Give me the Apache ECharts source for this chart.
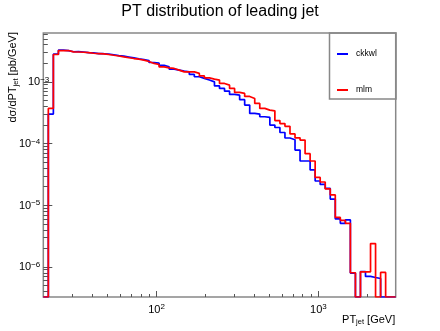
<!DOCTYPE html>
<html>
<head>
<meta charset="utf-8">
<script src="https://cdn.jsdelivr.net/npm/echarts@6/dist/echarts.min.js"></script>
<style>
html, body { margin: 0; padding: 0; background: #fff; }
#chart { width: 440px; height: 331px; }
</style>
</head>
<body>
<div id="chart"></div>
<script>
// histogram binning: 70 log-spaced bins from 20 to 3000 GeV
var ptLow = 20;
var ptHigh = 3000;
var nBins = 70;

// dsigma/dPT per bin, 0 = empty bin
var ckkwl = [
    0, 3.00e-4, 2.81e-3, 3.26e-3, 3.22e-3, 3.08e-3, 3.10e-3, 3.05e-3, 2.99e-3, 2.95e-3,
    2.88e-3, 2.86e-3, 2.81e-3, 2.75e-3, 2.67e-3, 2.61e-3, 2.53e-3, 2.45e-3, 2.37e-3, 2.30e-3,
    2.22e-3, 2.06e-3, 2.01e-3, 1.86e-3, 1.75e-3, 1.61e-3, 1.55e-3, 1.49e-3, 1.45e-3, 1.32e-3,
    1.21e-3, 1.14e-3, 1.07e-3, 1.00e-3, 8.61e-4, 7.82e-4, 7.07e-4, 6.25e-4, 6.09e-4, 5.15e-4,
    4.20e-4, 3.08e-4, 3.00e-4, 2.72e-4, 2.65e-4, 1.99e-4, 1.82e-4, 1.51e-4, 1.23e-4, 1.15e-4,
    7.85e-5, 5.21e-5, 5.21e-5, 3.73e-5, 2.47e-5, 2.17e-5, 1.87e-5, 1.26e-5, 6.00e-6, 5.08e-6,
    5.78e-6, 7.94e-7, 0, 8.42e-7, 7.00e-7, 6.74e-7, 6.49e-7, 0, 0, 0
];
var mlm = [
    0, 3.71e-4, 2.78e-3, 3.22e-3, 3.22e-3, 3.06e-3, 3.05e-3, 3.02e-3, 2.97e-3, 2.91e-3,
    2.88e-3, 2.84e-3, 2.78e-3, 2.70e-3, 2.63e-3, 2.54e-3, 2.46e-3, 2.39e-3, 2.33e-3, 2.25e-3,
    2.14e-3, 1.99e-3, 1.91e-3, 1.75e-3, 1.69e-3, 1.65e-3, 1.55e-3, 1.45e-3, 1.45e-3, 1.45e-3,
    1.37e-3, 1.25e-3, 1.16e-3, 1.11e-3, 1.07e-3, 9.42e-4, 8.84e-4, 7.82e-4, 6.74e-4, 6.49e-4,
    5.80e-4, 5.39e-4, 4.47e-4, 3.71e-4, 3.48e-4, 3.39e-4, 2.36e-4, 2.11e-4, 1.90e-4, 1.43e-4,
    1.24e-4, 1.14e-4, 6.84e-5, 5.21e-5, 2.82e-5, 2.38e-5, 1.84e-5, 1.47e-5, 6.35e-6, 5.68e-6,
    5.08e-6, 8.03e-7, 0, 8.33e-7, 8.33e-7, 2.39e-6, 0, 8.12e-7, 0, 0
];

var yLow = 3.25e-7;
var yHigh = 6.2e-3;

var xMajorTicks = [100, 1000];
var yMajorTicks = [1e-6, 1e-5, 1e-4, 1e-3];

// minor ticks 2..9 in every decade
function minorTicks(lo, hi) {
    var out = [];
    for (var p = Math.floor(Math.log10(lo)); p <= Math.ceil(Math.log10(hi)); p++) {
        for (var m = 2; m <= 9; m++) {
            var v = m * Math.pow(10, p);
            if (v > lo * 1.0001 && v < hi * 0.9999) out.push(v);
        }
    }
    return out;
}

var edges = [];
for (var i = 0; i <= nBins; i++) {
    edges.push(ptLow * Math.pow(ptHigh / ptLow, i / nBins));
}

function toSteps(vals) {
    var pts = [];
    for (var k = 0; k < vals.length; k++) {
        pts.push([edges[k], vals[k] > 0 ? vals[k] : yLow]);
    }
    var last = vals[vals.length - 1];
    pts.push([edges[nBins], last > 0 ? last : yLow]);
    return pts;
}

function expLabel(v) {
    var e = Math.round(Math.log10(v));
    return '{b|10}{sup|' + (e < 0 ? '\u2212' + (-e) : e) + '}';
}

var font = 'Liberation Sans, Arial, sans-serif';
var gridBox = { left: 43.3, right: 44.3, top: 33, bottom: 34 };
var tickColor = '#555';

var chart = echarts.init(document.getElementById('chart'));

var option = {
    animation: false,
    title: {
        text: 'PT distribution of leading jet',
        left: 'center',
        top: 0,
        padding: [4, 0, 0, 0],
        textStyle: { fontFamily: font, fontSize: 16, fontWeight: 'normal', color: '#000' }
    },
    legend: {
        orient: 'vertical',
        left: 332,
        top: 43,
        itemWidth: 11,
        itemHeight: 2,
        itemGap: 24,
        icon: 'rect',
        textStyle: { fontFamily: font, fontSize: 8.5, color: '#000', lineHeight: 12, padding: [0, 0, 0, 3] },
        data: ['ckkwl', 'mlm']
    },
    grid: [
        { left: gridBox.left, right: gridBox.right, top: gridBox.top, bottom: gridBox.bottom,
          show: true, borderColor: '#888', borderWidth: 1.5, backgroundColor: 'transparent' },
        { left: gridBox.left, right: gridBox.right, top: gridBox.top, bottom: gridBox.bottom, show: false }
    ],
    xAxis: [
        {
            type: 'log', logBase: 10, gridIndex: 0, min: ptLow, max: ptHigh,
            axisLine: { show: false }, splitLine: { show: false },
            axisTick: { inside: true, length: 3, customValues: minorTicks(ptLow, ptHigh), lineStyle: { color: tickColor } },
            axisLabel: { show: false }
        },
        {
            type: 'log', logBase: 10, gridIndex: 1, min: ptLow, max: ptHigh,
            axisLine: { show: false }, splitLine: { show: false },
            axisTick: { inside: true, length: 6, customValues: xMajorTicks, lineStyle: { color: tickColor } },
            axisLabel: {
                customValues: xMajorTicks, margin: 6, formatter: expLabel,
                rich: {
                    b: { fontFamily: font, fontSize: 11, color: '#000', lineHeight: 12, padding: [2, 0, 0, 0], verticalAlign: 'bottom' },
                    sup: { fontFamily: font, fontSize: 8, color: '#000', lineHeight: 9, verticalAlign: 'top' }
                }
            },
            name: 'PT{sub|jet} [GeV]',
            nameLocation: 'end',
            nameGap: -0.5,
            nameTextStyle: {
                fontFamily: font, fontSize: 11, color: '#000', align: 'right', verticalAlign: 'top',
                padding: [16, 0, 0, 0],
                rich: { sub: { fontFamily: font, fontSize: 7.5, color: '#000', padding: [5, 0, 0, 0] } }
            }
        }
    ],
    yAxis: [
        {
            type: 'log', logBase: 10, gridIndex: 0, min: yLow, max: yHigh,
            axisLine: { show: false }, splitLine: { show: false },
            axisTick: { inside: true, length: 4.5, customValues: minorTicks(yLow, yHigh), lineStyle: { color: tickColor } },
            axisLabel: { show: false }
        },
        {
            type: 'log', logBase: 10, gridIndex: 1, min: yLow, max: yHigh,
            axisLine: { show: false }, splitLine: { show: false },
            axisTick: { inside: true, length: 9, customValues: yMajorTicks, lineStyle: { color: tickColor } },
            axisLabel: {
                customValues: yMajorTicks, margin: -6,
                formatter: function (v) {
                    var s = expLabel(v);
                    // ROOT pushes the 10^-3 label into the frame; others sit further left
                    return Math.abs(Math.log10(v) + 3) < 0.01 ? s : s.replace('{sup|', '{supl|');
                },
                rich: {
                    b: { fontFamily: font, fontSize: 11, color: '#000', lineHeight: 12, padding: [2, 0, 0, 0], verticalAlign: 'bottom' },
                    sup: { fontFamily: font, fontSize: 8, color: '#000', lineHeight: 9, verticalAlign: 'top' },
                    supl: { fontFamily: font, fontSize: 8, color: '#000', lineHeight: 9, verticalAlign: 'top', padding: [0, 9, 0, 0] }
                }
            }
        }
    ],
    graphic: [
        {
            type: 'rect', z: 10,
            shape: { x: 329.5, y: 33, width: 66.5, height: 66 },
            style: { fill: 'transparent', stroke: '#888', lineWidth: 1.5 }
        },
        {
            type: 'text', z: 10, x: 12.5, y: 32, rotation: Math.PI / 2,
            style: {
                text: 'd\u03c3/dPT{sub|jet} [pb/GeV]',
                fontFamily: font, fontSize: 11, fill: '#000',
                align: 'right', verticalAlign: 'middle',
                rich: { sub: { fontFamily: font, fontSize: 7.5, fill: '#000', padding: [6, 0, 0, 0] } }
            }
        }
    ],
    series: [
        {
            name: 'ckkwl', type: 'line', step: 'end', xAxisIndex: 0, yAxisIndex: 0,
            showSymbol: false, color: '#0000ff',
            lineStyle: { width: 1.7, color: '#0000ff' },
            data: toSteps(ckkwl)
        },
        {
            name: 'mlm', type: 'line', step: 'end', xAxisIndex: 0, yAxisIndex: 0,
            showSymbol: false, color: '#ff0000',
            lineStyle: { width: 1.7, color: '#ff0000' },
            data: toSteps(mlm)
        }
    ]
};

chart.setOption(option);
</script>
</body>
</html>
